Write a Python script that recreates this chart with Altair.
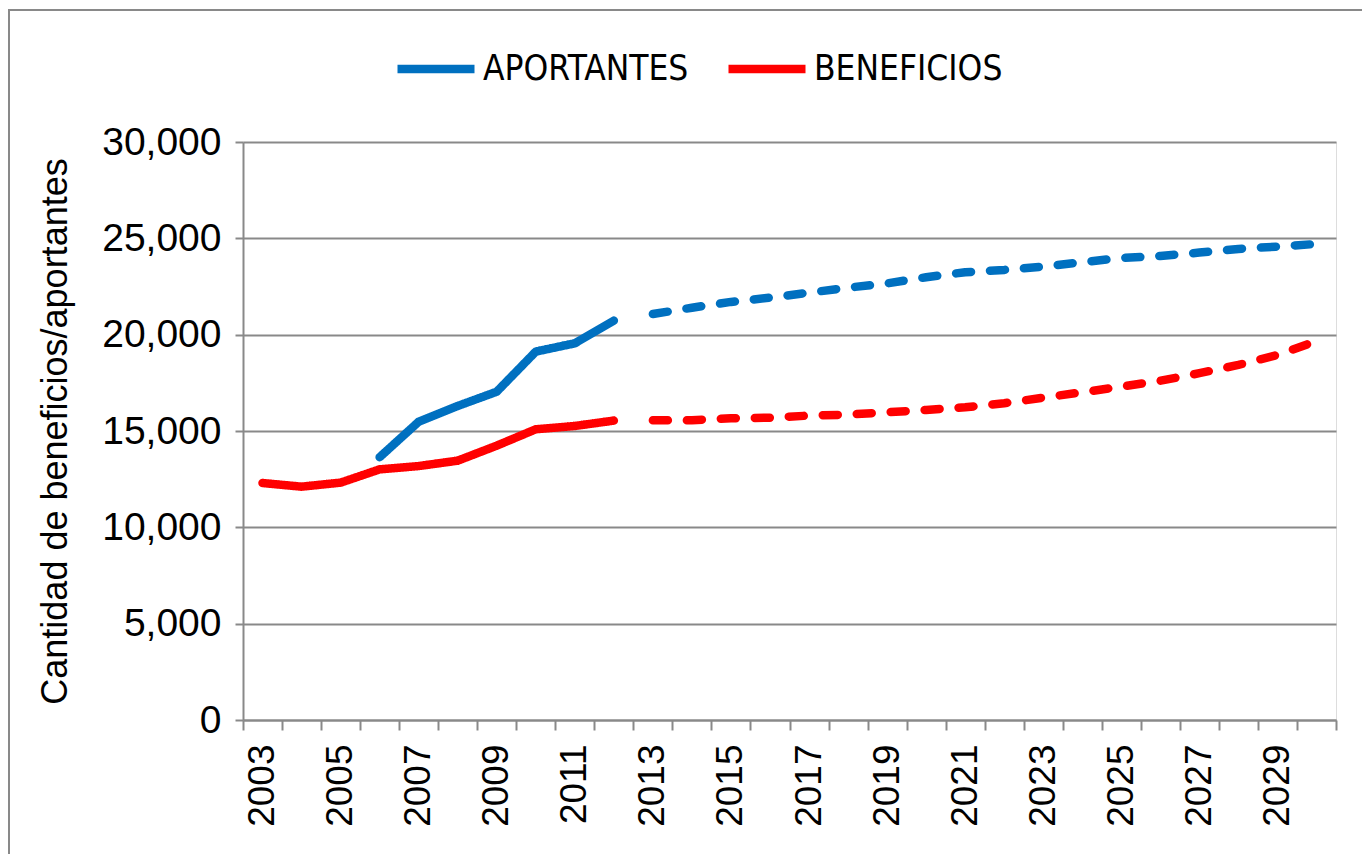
import altair as alt
import pandas as pd

years_hist_ap = list(range(2006, 2013))
aportantes_hist = [13640, 15480, 16300, 17040, 19120, 19550, 20730]
years_hist_be = list(range(2003, 2013))
beneficios_hist = [12300, 12110, 12320, 13010, 13180, 13460, 14240, 15090, 15260, 15540]
years_proj = list(range(2013, 2031))
aportantes_proj = [21070, 21400, 21700, 21920, 22180, 22440, 22660, 22980, 23240,
                   23360, 23530, 23760, 23980, 24080, 24260, 24450, 24570, 24710]
beneficios_proj = [15560, 15560, 15660, 15690, 15800, 15850, 15970, 16090, 16230,
                   16440, 16730, 17010, 17300, 17610, 18000, 18430, 18950, 19670]
series = ["APORTANTES", "BENEFICIOS"]
colors = ["#0070C0", "#FF0000"]
y_ticks = [0, 5000, 10000, 15000, 20000, 25000, 30000]

rows = []
for y, v in zip(years_hist_ap, aportantes_hist):
    rows.append({"year": y, "value": v, "serie": "APORTANTES", "tipo": "hist"})
for y, v in zip(years_proj, aportantes_proj):
    rows.append({"year": y, "value": v, "serie": "APORTANTES", "tipo": "proj"})
for y, v in zip(years_hist_be, beneficios_hist):
    rows.append({"year": y, "value": v, "serie": "BENEFICIOS", "tipo": "hist"})
for y, v in zip(years_proj, beneficios_proj):
    rows.append({"year": y, "value": v, "serie": "BENEFICIOS", "tipo": "proj"})
df = pd.DataFrame(rows)

x_vals = [2002.5 + i for i in range(29)]
GRAY = "#898989"

lines = alt.Chart(df).mark_line(strokeWidth=8.5, strokeCap="round", strokeJoin="round").encode(
    x=alt.X("year:Q",
            scale=alt.Scale(domain=[2002.5, 2030.5], nice=False, zero=False),
            axis=alt.Axis(values=x_vals, title=None, grid=False,
                          labelExpr="((datum.value + 0.5) % 2 == 1 && datum.value < 2030) ? '' + (datum.value + 0.5) : ''",
                          labelAngle=270, labelOffset=19.5, labelOverlap=False, labelFlush=False,
                          labelBound=False, labelFontSize=37, labelFont="Liberation Sans",
                          labelColor="black", labelPadding=14,
                          tickSize=10, tickColor=GRAY, tickWidth=2,
                          domainColor=GRAY, domainWidth=2)),
    y=alt.Y("value:Q",
            scale=alt.Scale(domain=[0, 30000], nice=False),
            axis=alt.Axis(values=y_ticks, format=",.0f", title="Cantidad de beneficios/aportantes",
                          titleFontSize=36, titleFont="Liberation Sans", titleFontWeight="normal",
                          titleColor="black", titleAngle=270, titleX=-188, titleY=289,
                          titleAlign="center", titleBaseline="middle",
                          labelFontSize=39, labelFont="Liberation Sans", labelColor="black",
                          labelPadding=14, tickSize=8, tickColor=GRAY, tickWidth=2,
                          domainColor=GRAY, domainWidth=2,
                          grid=True, gridColor=GRAY, gridWidth=2)),
    color=alt.Color("serie:N", scale=alt.Scale(domain=series, range=colors),
                    legend=alt.Legend(orient="none", legendX=150, legendY=-116,
                                      direction="horizontal", title=None,
                                      symbolType="stroke", symbolSize=5929,
                                      symbolStrokeWidth=8.5, labelFontSize=35,
                                      labelFont="Liberation Sans Narrow, DejaVu Sans Condensed",
                                      labelColor="black", labelOffset=4, labelLimit=400,
                                      columnPadding=22)),
    strokeDash=alt.StrokeDash("tipo:N", scale=alt.Scale(domain=["hist", "proj"], range=[[1, 0], [15, 19]]),
                              legend=None),
    detail="tipo:N",
)

frame_df = pd.DataFrame({"k": [0]})
frame = alt.Chart(frame_df).mark_rect(fill=None, stroke=GRAY, strokeWidth=2).encode(
    x=alt.value(-234), x2=alt.value(1140), y=alt.value(-132), y2=alt.value(730)
)

chart = alt.layer(frame, lines).properties(
    width=1093, height=578,
    autosize=alt.AutoSizeParams(type="none"),
    padding={"left": 235, "top": 134, "right": 26, "bottom": 134},
).configure_view(stroke=None).configure(background="white")

chart.save("out.html", embed_options={"renderer": "svg", "actions": False})
